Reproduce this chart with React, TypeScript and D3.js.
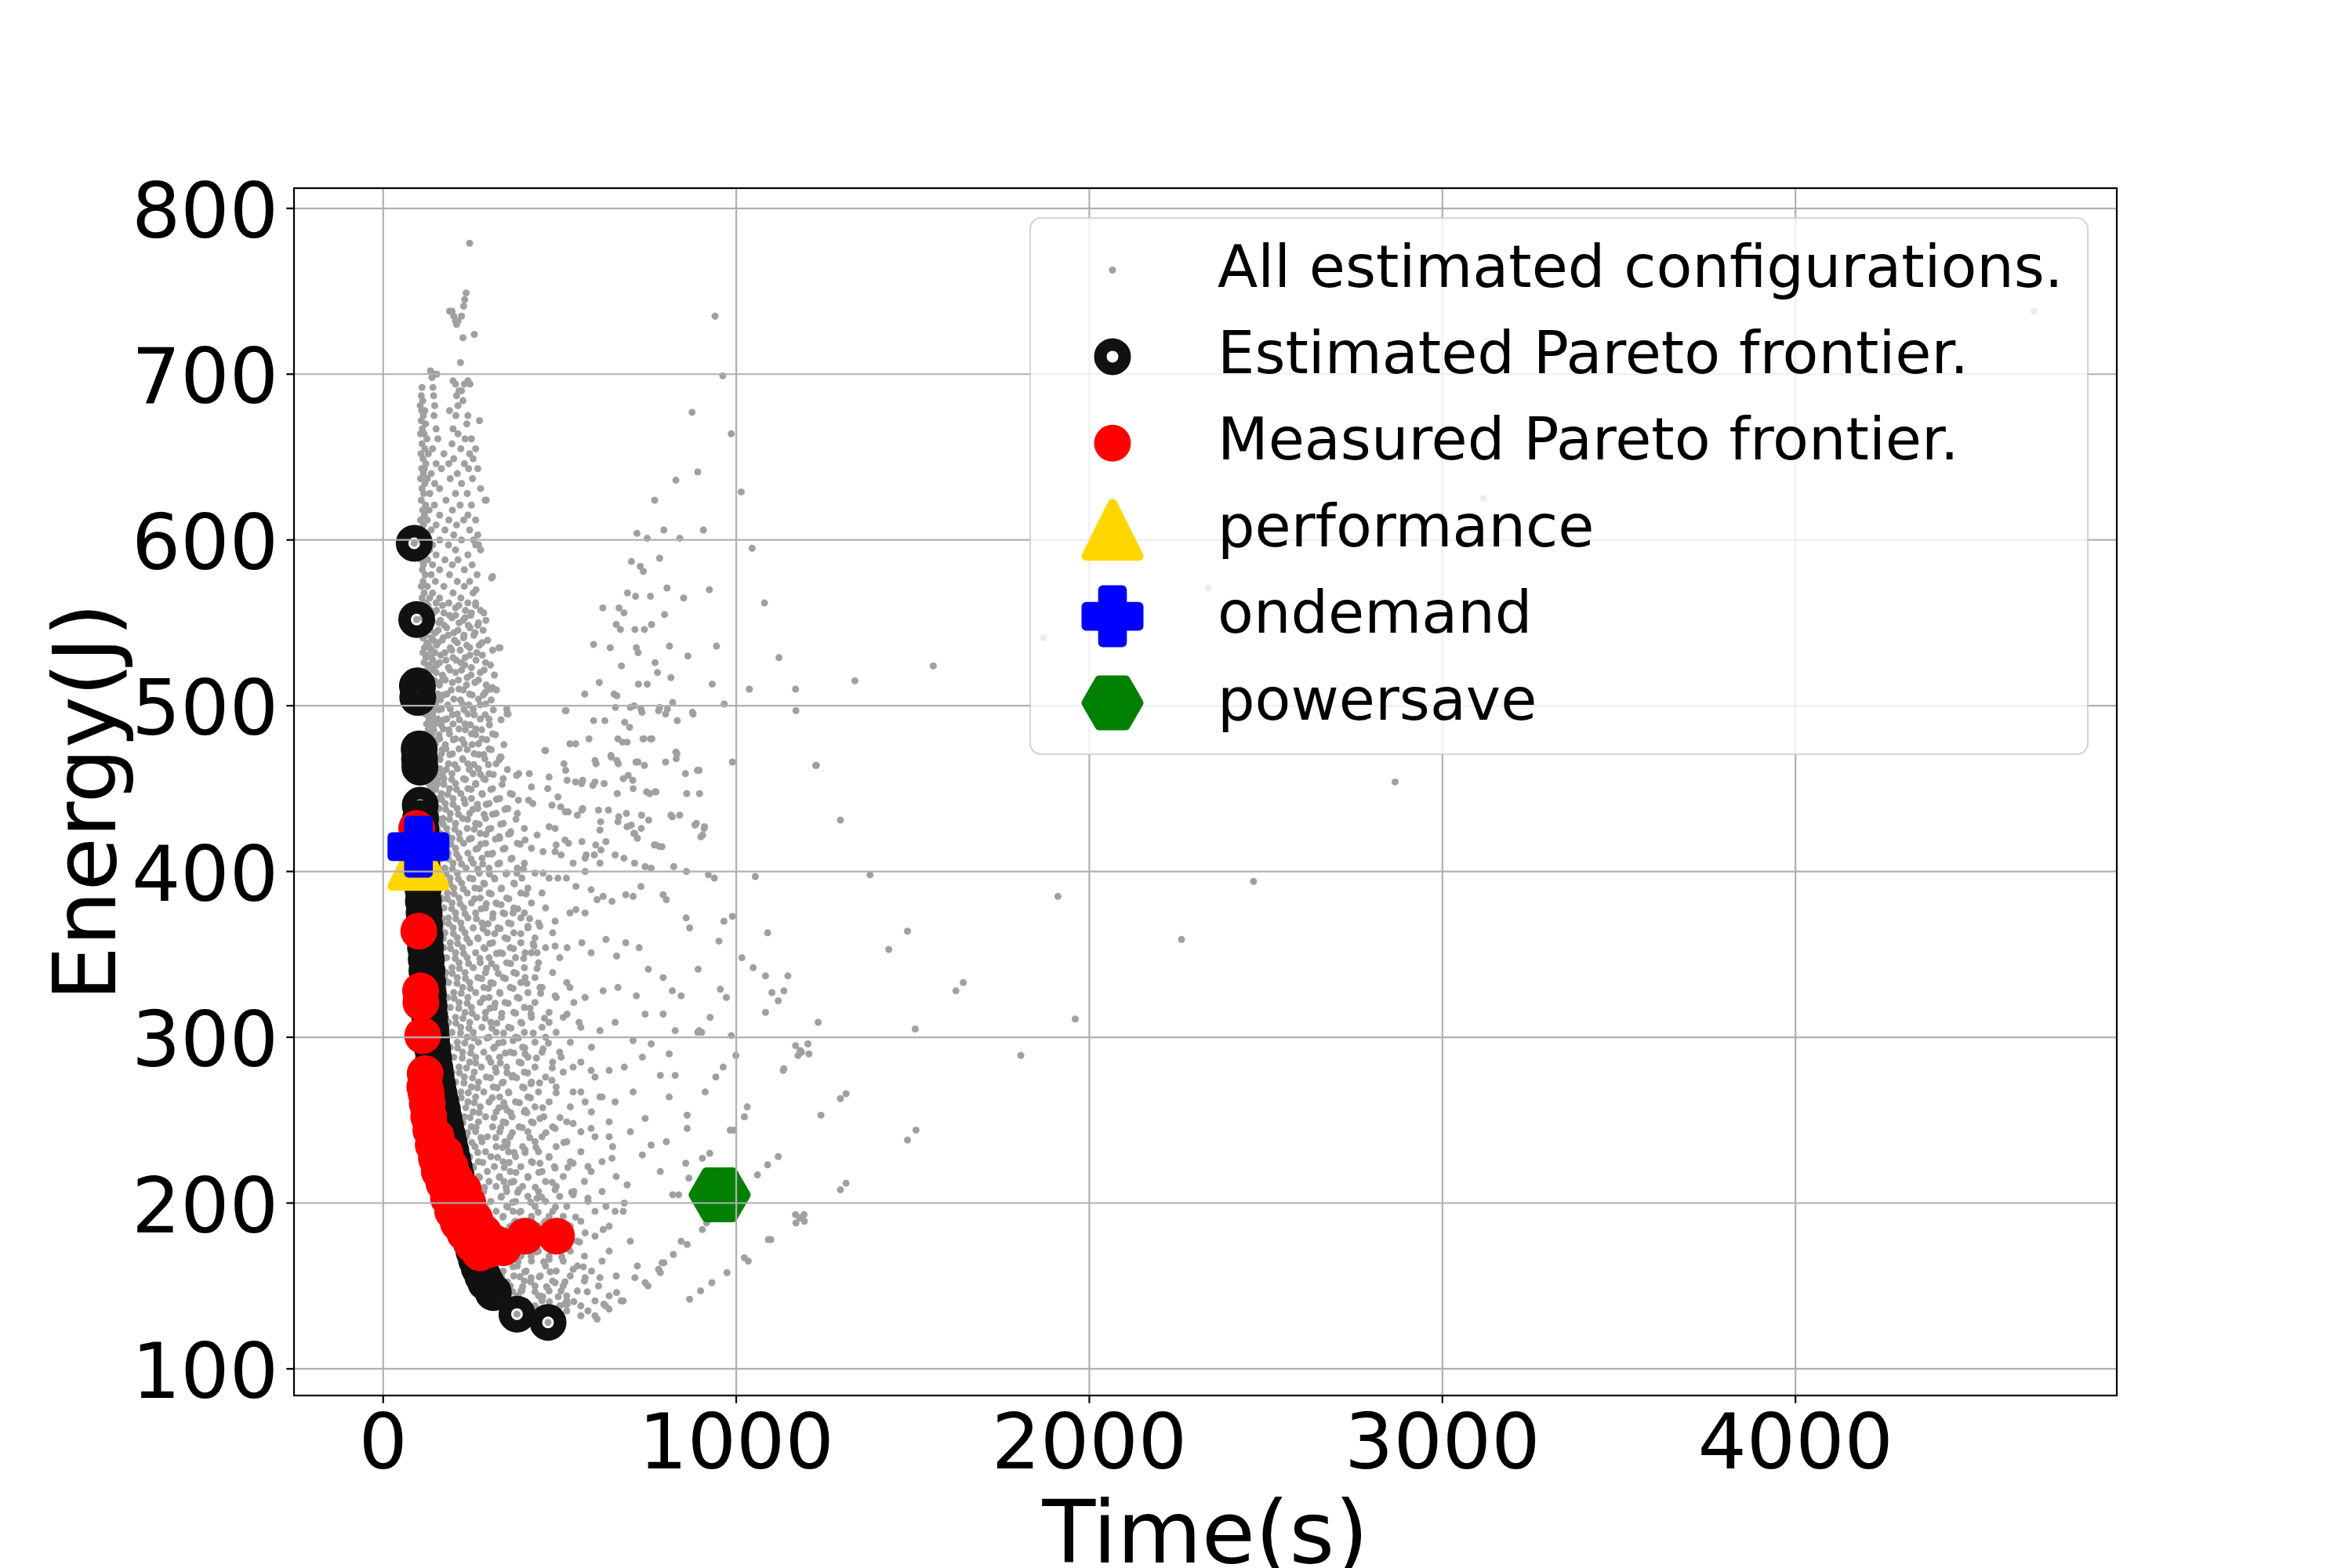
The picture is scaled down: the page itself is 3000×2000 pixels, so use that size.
import React from "react";
import * as d3 from "d3";

const W = 3000;
const H = 2000;

const xTicks = [0, 1000, 2000, 3000, 4000];
const yTicks = [100, 200, 300, 400, 500, 600, 700, 800];
const xDomain: [number, number] = [-252.5, 4910];
const yDomain: [number, number] = [83.9, 812.2];

const legendLabels = [
  "All estimated configurations.",
  "Estimated Pareto frontier.",
  "Measured Pareto frontier.",
  "performance",
  "ondemand",
  "powersave",
];

// Dense band of estimated configurations: [energy, [times...]]
const denseRows: [number, number[]][] = [
  [779, [245]], [749, [235]], [745, [231]], [741, [228]],
  [738, [188, 195]], [735, [200, 222]], [732, [205, 212]], [730, [208]],
  [724, [258]], [722, [226]], [707, [219]],
  [702, [134]], [700, [145, 152]], [698, [138]], [696, [198, 240]], [694, [205, 230, 246]],
  [692, [110, 141]], [690, [215, 222]], [687, [108, 143, 208]], [684, [112, 226]], [681, [105, 146, 212]],
  [678, [109, 118, 188]], [675, [114, 144, 206, 240]], [672, [108, 273]], [670, [120, 237]], [667, [111, 150, 198]],
  [664, [106, 116, 212]], [661, [124, 155, 232, 250]], [658, [110, 195]], [655, [118, 140, 220, 262]], [652, [107, 128, 172, 245]],
  [649, [113, 200, 255]], [646, [121, 150, 186, 230]], [643, [109, 117, 165, 242, 268]], [640, [114, 136, 210]],
  [637, [106, 125, 190, 253]], [634, [118, 146, 222]], [631, [110, 160, 276]], [628, [115, 132, 205, 238]],
  [624, [108, 178, 289]], [621, [120, 145, 218, 250]], [618, [112, 130, 196]], [615, [117, 160, 240]],
  [612, [106, 125, 186, 228, 262]], [609, [114, 150, 208]], [606, [110, 136, 175, 245]], [603, [119, 200, 268]],
  [600, [107, 128, 160, 222, 256]], [597, [115, 140, 185, 262, 270]], [594, [110, 132, 205, 276]],
  [591, [118, 150, 240]], [588, [108, 126, 175, 212]], [585, [114, 140, 196, 252]],
  [582, [111, 160, 230]], [579, [119, 136, 188, 266]], [577, [307]], [575, [113, 148, 210, 245]],
  [572, [108, 125, 172, 230]], [570, [263]], [568, [116, 140, 198, 255]],
  [565, [110, 132, 160, 220]], [562, [120, 150, 186, 240, 262]], [559, [113, 128, 205]],
  [556, [117, 142, 172, 250, 285]], [553, [111, 135, 195, 232]], [550, [122, 158, 215, 270]],
  [547, [115, 130, 180, 246]], [544, [119, 148, 200, 260]], [541, [112, 138, 170, 228]],
  [538, [124, 155, 210, 280]], [535, [117, 132, 190, 245, 328]], [532, [113, 146, 175, 265]],
  [529, [121, 136, 198, 232]], [526, [116, 160, 220, 290]], [523, [127, 142, 185, 250]],
  [520, [119, 150, 205, 275]], [517, [115, 133, 170, 238]], [514, [124, 160, 196, 260]],
  [510, [118, 140, 215, 298, 305]], [507, [128, 155, 180, 245]], [504, [121, 135, 200, 270]],
  [501, [117, 148, 225, 290]], [498, [126, 165, 190, 255, 350]], [495, [119, 140, 210, 240]],
  [492, [130, 155, 180, 275, 300]], [489, [123, 146, 198, 232]], [486, [128, 170, 215, 262]],
  [483, [121, 138, 188, 250, 310]], [480, [132, 160, 205, 280]], [477, [125, 148, 230, 270]],
  [474, [129, 142, 178, 215, 300]], [471, [123, 165, 196, 258]], [469, [331]], [468, [134, 152, 225, 288]],
  [465, [127, 145, 185, 240, 320]], [462, [131, 160, 210, 270]], [459, [125, 150, 195, 255, 300]],
  [456, [136, 172, 228, 285, 340]], [453, [129, 155, 205, 262]], [450, [134, 148, 188, 240, 310]],
  [447, [127, 165, 220, 280, 360]], [444, [138, 152, 198, 250, 330]], [441, [131, 176, 232, 300]],
  [438, [135, 158, 210, 268, 350]], [435, [129, 148, 190, 245, 320, 380]], [432, [140, 170, 225, 290]],
  [429, [133, 155, 205, 262, 340]], [426, [137, 180, 238, 305, 400]], [423, [131, 162, 215, 275, 360]],
  [420, [142, 150, 195, 250, 330]], [417, [135, 172, 228, 290, 380]], [414, [139, 160, 205, 268, 345, 420]],
  [411, [133, 185, 240, 310]], [408, [144, 165, 215, 280, 365]], [405, [137, 152, 198, 255, 330, 400]],
  [402, [141, 175, 235, 300, 380]], [399, [135, 160, 210, 272, 350, 430]], [396, [146, 190, 245, 315]],
  [393, [139, 168, 222, 285, 370]], [390, [143, 155, 200, 260, 335, 410]], [387, [137, 182, 238, 300, 390, 450]],
  [384, [148, 165, 215, 275, 350]], [381, [141, 195, 250, 320, 420]], [378, [145, 172, 228, 290, 370, 460]],
  [375, [139, 158, 205, 262, 340, 400]], [372, [150, 185, 240, 310, 390]], [369, [143, 168, 220, 280, 355, 440]],
  [366, [147, 198, 255, 325, 410]], [363, [141, 175, 232, 295, 370, 480]], [360, [152, 160, 210, 268, 345, 430]],
  [357, [145, 190, 245, 310, 390]], [354, [149, 172, 225, 285, 360, 460]], [351, [143, 205, 262, 330, 420]],
  [348, [154, 180, 238, 300, 375, 500]], [345, [147, 165, 215, 275, 350, 440]], [342, [151, 195, 255, 320, 400]],
  [339, [145, 178, 232, 290, 370, 480]], [336, [156, 210, 268, 340, 430]], [333, [149, 185, 245, 305, 390, 520]],
  [330, [153, 170, 225, 285, 360, 450]], [327, [147, 200, 262, 330, 410]], [324, [158, 182, 240, 300, 380, 490]],
  [321, [151, 215, 275, 345, 430, 540]], [318, [155, 190, 250, 315, 400]], [315, [149, 175, 232, 290, 370, 470]],
  [312, [160, 205, 265, 335, 420, 510]], [309, [153, 185, 245, 305, 390]], [306, [157, 220, 280, 355, 450, 560]],
  [303, [151, 195, 255, 320, 400, 490]], [300, [162, 178, 238, 300, 375, 460]], [297, [155, 210, 270, 340, 430, 530]],
  [294, [159, 190, 250, 315, 395, 590]], [291, [153, 225, 285, 360, 450, 500]], [288, [164, 200, 262, 330, 410]],
  [285, [157, 182, 245, 305, 385, 480, 560]], [282, [161, 215, 278, 350, 430]], [279, [155, 195, 258, 320, 400, 510]],
  [276, [166, 230, 292, 365, 460, 600]], [273, [159, 205, 270, 340, 420]], [270, [163, 188, 250, 312, 395, 490]],
  [267, [168, 220, 285, 355, 440, 560]], [264, [161, 200, 262, 330, 410, 620]], [261, [170, 240, 300, 375, 470]],
  [258, [165, 210, 275, 345, 430, 530]], [255, [172, 195, 255, 320, 400, 590]], [252, [167, 230, 290, 365, 455]],
  [249, [175, 215, 270, 340, 420, 520, 640]], [246, [170, 250, 310, 385, 480]], [243, [178, 205, 262, 330, 410, 560]],
  [240, [173, 235, 295, 360, 450, 600]], [237, [181, 220, 280, 345, 430, 520]], [234, [176, 260, 320, 395, 490, 650]],
  [231, [184, 225, 290, 355, 440, 560]], [228, [179, 245, 305, 375, 470]], [225, [188, 215, 270, 340, 420, 530, 620]],
  [222, [183, 255, 315, 390, 485, 580]], [219, [192, 235, 295, 360, 450]], [216, [187, 270, 330, 410, 510, 660]],
  [213, [196, 240, 300, 370, 460, 570]], [210, [191, 260, 320, 395, 490]], [207, [200, 235, 285, 350, 440, 540, 620]],
  [204, [196, 275, 335, 410, 500]], [201, [205, 250, 305, 375, 460, 580]], [198, [201, 290, 350, 430, 520]],
  [195, [210, 260, 320, 390, 480, 600, 680]], [192, [206, 280, 340, 420, 510]], [189, [216, 250, 305, 375, 460, 560]],
  [186, [212, 295, 360, 440, 530, 640]], [183, [222, 265, 325, 400, 490]], [180, [218, 285, 345, 420, 510, 600]],
  [177, [228, 310, 375, 455, 550, 700]], [174, [234, 270, 335, 410, 500]], [171, [240, 300, 360, 440, 530, 640]],
  [168, [248, 325, 390, 470, 570]], [165, [256, 285, 350, 420, 510, 620]], [162, [264, 315, 380, 460, 550, 720]],
  [159, [272, 340, 405, 490, 590]], [156, [282, 305, 370, 445, 530, 660]], [153, [292, 335, 400, 480, 570]],
  [150, [300, 360, 430, 510, 610, 750]], [147, [312, 345, 390, 470, 550]], [144, [325, 380, 440, 520, 640]],
  [141, [390, 450, 520, 600, 680]], [138, [430, 500, 560, 630]], [135, [470, 520, 580]], [132, [560, 600]],
];

// Second pass over the dense band, between the rows above: [energy, [times...]]
const denseRowsInner: [number, number[]][] = [
  [560.5, [127, 168, 214, 262]], [557.5, [134, 151, 233, 276]], [554.5, [122, 188, 205, 248]],
  [551.5, [139, 162, 226, 291]], [548.5, [126, 173, 241, 268]], [545.5, [133, 156, 212, 283]],
  [542.5, [121, 184, 229, 257]], [539.5, [142, 167, 202, 296]], [536.5, [128, 151, 237, 272]],
  [533.5, [136, 194, 218, 310]], [530.5, [124, 163, 246, 281]], [527.5, [141, 178, 207, 263]],
  [524.5, [130, 152, 231, 304]], [521.5, [137, 189, 222, 286]], [518.5, [126, 168, 249, 315]],
  [515.5, [144, 176, 213, 270]], [512.5, [132, 159, 236, 292]], [509.5, [139, 193, 227, 321]],
  [506.5, [128, 171, 252, 284]], [503.5, [146, 162, 219, 306]], [500.5, [134, 183, 243, 275]],
  [497.5, [141, 157, 229, 312]], [494.5, [130, 196, 258, 289]], [491.5, [148, 173, 216, 334]],
  [488.5, [136, 164, 247, 301]], [485.5, [143, 186, 233, 279]], [482.5, [132, 158, 262, 318]],
  [479.5, [150, 199, 224, 293]], [476.5, [138, 176, 252, 342]], [473.5, [145, 167, 238, 306]],
  [470.5, [134, 189, 271, 285]], [467.5, [152, 161, 226, 329]], [464.5, [140, 203, 257, 298]],
  [461.5, [147, 179, 244, 352]], [458.5, [136, 168, 276, 312]], [455.5, [154, 194, 233, 289]],
  [452.5, [142, 172, 262, 337]], [449.5, [149, 208, 249, 305]], [446.5, [138, 183, 281, 366]],
  [443.5, [156, 166, 229, 321]], [440.5, [144, 198, 267, 292]], [437.5, [151, 177, 254, 345]],
  [434.5, [140, 213, 286, 310]], [431.5, [158, 188, 239, 376]], [428.5, [146, 170, 272, 333]],
  [425.5, [153, 203, 258, 299]], [422.5, [142, 181, 291, 355]], [419.5, [160, 217, 244, 318]],
  [416.5, [148, 192, 277, 388]], [413.5, [155, 174, 263, 340]], [410.5, [144, 208, 296, 307]],
  [407.5, [162, 185, 249, 362]], [404.5, [150, 222, 282, 325]], [401.5, [157, 196, 268, 397]],
  [398.5, [146, 178, 301, 348]], [395.5, [164, 213, 254, 316]], [392.5, [152, 189, 287, 372]],
  [389.5, [159, 227, 273, 334]], [386.5, [148, 201, 306, 405]], [383.5, [166, 182, 259, 356]],
  [380.5, [154, 218, 292, 323]], [377.5, [161, 194, 278, 381]], [374.5, [150, 232, 311, 344]],
  [371.5, [168, 206, 264, 415]], [368.5, [156, 186, 297, 362]], [365.5, [163, 223, 283, 331]],
  [362.5, [152, 199, 316, 390]], [359.5, [170, 237, 269, 352]], [356.5, [158, 211, 302, 425]],
  [353.5, [165, 191, 288, 369]], [350.5, [154, 228, 321, 338]], [347.5, [172, 204, 274, 398]],
  [344.5, [160, 242, 307, 361]], [341.5, [167, 216, 293, 436]], [338.5, [156, 196, 326, 377]],
  [335.5, [174, 233, 279, 346]], [332.5, [162, 209, 312, 407]], [329.5, [169, 247, 298, 368]],
  [326.5, [158, 221, 331, 446]], [323.5, [176, 201, 284, 385]], [320.5, [164, 238, 317, 354]],
  [317.5, [171, 214, 303, 416]], [314.5, [160, 252, 336, 375]], [311.5, [178, 226, 289, 457]],
  [308.5, [166, 206, 322, 393]], [305.5, [173, 243, 308, 362]], [302.5, [162, 219, 341, 425]],
  [299.5, [180, 257, 294, 383]], [296.5, [168, 231, 327, 468]], [293.5, [175, 211, 313, 401]],
  [290.5, [184, 248, 346, 370]], [287.5, [172, 224, 299, 434]], [284.5, [179, 262, 332, 391]],
  [281.5, [188, 236, 318, 479]], [278.5, [176, 216, 351, 409]], [275.5, [183, 253, 304, 378]],
  [272.5, [192, 229, 337, 443]], [269.5, [180, 267, 323, 399]], [266.5, [187, 241, 356, 490]],
  [263.5, [196, 221, 309, 417]], [260.5, [184, 258, 342, 386]], [257.5, [191, 234, 328, 452]],
  [254.5, [200, 272, 361, 407]], [251.5, [188, 246, 314, 501]], [248.5, [195, 226, 347, 425]],
  [245.5, [204, 263, 333, 394]], [242.5, [192, 239, 366, 461]], [239.5, [199, 277, 319, 415]],
  [236.5, [208, 251, 352, 512]], [233.5, [196, 231, 338, 433]], [230.5, [203, 268, 371, 402]],
  [227.5, [212, 244, 324, 470]], [224.5, [200, 282, 357, 423]], [221.5, [207, 256, 343, 523]],
  [218.5, [216, 236, 376, 441]], [215.5, [204, 273, 329, 410]], [212.5, [211, 249, 362, 479]],
  [209.5, [220, 287, 348, 431]], [206.5, [208, 261, 381, 534]], [203.5, [215, 241, 334, 449]],
  [200.5, [224, 278, 367, 418]], [197.5, [212, 254, 353, 488]], [194.5, [219, 292, 386, 439]],
  [191.5, [228, 266, 339, 545]], [188.5, [216, 246, 372, 457]], [185.5, [223, 283, 358, 426]],
  [182.5, [232, 259, 391, 497]], [179.5, [237, 297, 344, 447]], [176.5, [242, 271, 377, 556]],
  [173.5, [247, 288, 363, 465]], [170.5, [252, 302, 396, 434]], [167.5, [258, 276, 349, 506]],
  [164.5, [266, 293, 382, 455]], [161.5, [274, 307, 368, 567]], [158.5, [282, 321, 401, 473]],
  [155.5, [290, 336, 387, 442]], [152.5, [300, 352, 418, 515]], [149.5, [310, 341, 395, 463]],
  [146.5, [322, 367, 430, 578]], [143.5, [338, 384, 452, 496]], [140.5, [356, 404, 471, 540]],
];

// Scattered estimated configurations: [time, energy]
const scatterPoints: [number, number][] = [
  [1168, 510], [1169, 497], [1336, 515], [1558, 524], [1227, 464], [1295, 431], [1379, 398], [1911, 385],
  [1485, 364], [1432, 353], [1146, 337], [1135, 328], [1643, 333], [1622, 328], [1232, 309], [1507, 305],
  [1960, 311], [1203, 296], [1185, 291], [1175, 289], [1135, 281], [1806, 289], [1311, 266], [1295, 263],
  [1240, 253], [1509, 244], [1485, 238], [1311, 212], [1295, 208], [1192, 193], [1180, 191], [1169, 188],
  [2866, 454], [2465, 394], [2261, 359], [2337, 571], [1870, 541], [4675, 738], [3116, 625],
  [940, 735], [962, 699], [875, 677], [986, 664], [891, 641], [829, 636], [1014, 629], [769, 624],
  [719, 604], [795, 606], [907, 606], [748, 601], [840, 601], [1045, 595], [783, 589], [703, 587],
  [728, 584], [737, 581], [924, 570], [804, 571], [692, 568], [715, 566], [757, 566], [851, 565],
  [1080, 562], [622, 559], [668, 559], [682, 556], [797, 555], [660, 549], [672, 546], [713, 546],
  [740, 546], [760, 549], [596, 537], [643, 535], [717, 535], [722, 532], [811, 536], [944, 536],
  [1121, 529], [770, 526], [777, 520], [815, 517], [863, 530], [675, 524], [723, 513], [748, 513],
  [571, 507], [612, 514], [654, 507], [662, 506], [932, 513], [1037, 510], [966, 501], [820, 502],
  [783, 499], [805, 498], [833, 491], [876, 496], [516, 497], [596, 491], [628, 491], [684, 490],
  [698, 487], [711, 500], [730, 498], [736, 480], [757, 480], [829, 472], [830, 468], [989, 466],
  [1225, 464], [458, 473], [529, 477], [545, 477], [583, 480], [600, 467], [645, 470], [662, 467],
  [680, 456], [694, 458], [707, 455], [722, 466], [740, 464], [746, 448], [770, 448], [856, 459],
  [890, 461], [860, 447], [512, 465], [545, 454], [565, 455], [594, 452], [384, 459], [420, 451],
  [412, 443], [466, 450], [495, 445], [516, 436], [550, 434], [815, 434], [840, 434], [887, 429],
  [910, 427], [905, 422], [768, 416], [783, 415], [703, 428], [731, 426], [616, 430], [665, 430],
  [710, 423], [565, 438], [575, 410], [617, 413], [490, 416], [515, 419],
  [351, 495], [518, 497], [658, 499], [700, 499], [733, 496], [780, 497], [800, 495], [878, 495],
  [460, 473], [665, 480], [678, 478], [691, 478], [738, 480], [761, 480], [832, 471], [517, 461],
  [603, 465], [646, 469], [666, 465], [716, 466], [800, 466], [895, 461], [378, 458], [414, 459],
  [470, 457], [521, 455], [562, 453], [600, 454], [626, 453], [663, 447], [708, 450], [755, 447],
  [773, 448], [896, 447], [353, 438], [383, 443], [424, 441], [478, 440], [503, 439], [524, 436],
  [563, 437], [610, 437], [638, 437], [667, 433], [689, 435], [732, 434], [752, 431], [819, 433],
  [883, 428], [909, 426], [900, 421], [329, 421], [361, 424], [402, 419], [436, 422], [470, 427],
  [487, 426], [525, 417], [563, 418], [602, 416], [614, 425], [631, 418], [691, 427], [712, 423],
  [720, 420], [772, 416], [790, 415], [823, 403], [859, 400], [921, 398], [938, 396], [1054, 397],
  [657, 410], [682, 408], [712, 405], [742, 403], [759, 402], [572, 408], [598, 410], [614, 405],
  [453, 412], [487, 412], [504, 410], [538, 405], [572, 400], [379, 399], [393, 396], [453, 399],
  [470, 396], [495, 396], [519, 396], [546, 391], [589, 389], [623, 385], [648, 382], [687, 386],
  [708, 385], [730, 391], [793, 386], [802, 383], [858, 372], [868, 366], [965, 370], [989, 373],
  [1089, 363], [955, 329], [972, 324], [892, 341], [951, 358], [1016, 348], [1048, 342], [1083, 337],
  [1101, 327], [1119, 322], [1083, 315], [926, 312], [986, 301], [999, 289], [1133, 280], [1168, 295],
  [1181, 292], [1206, 290], [891, 303], [902, 303], [942, 276], [963, 282], [1031, 258], [1023, 252],
  [983, 244], [993, 244], [904, 227], [925, 230], [857, 224], [866, 215], [1089, 223], [1119, 228],
  [1060, 217], [820, 205], [837, 205], [904, 184], [916, 188], [844, 177], [861, 175], [822, 169],
  [790, 164], [795, 164], [1091, 178], [1098, 178], [1168, 193], [1193, 189], [974, 158], [931, 152],
  [899, 147], [868, 142], [1023, 167], [1034, 165], [713, 155], [742, 152], [661, 146], [674, 141],
  [625, 139], [640, 136], [606, 130], [780, 160], [785, 158],
  [334, 380], [368, 375], [410, 367], [427, 355], [444, 367], [487, 370], [529, 375], [546, 377],
  [572, 375], [606, 383], [402, 351], [436, 351], [487, 355], [521, 354], [563, 357], [589, 351],
  [631, 359], [661, 349], [687, 357], [725, 354], [751, 341], [793, 336], [819, 328], [844, 325],
  [402, 336], [444, 330], [487, 325], [529, 330], [572, 324], [623, 328], [665, 330], [717, 325],
  [742, 314], [793, 314], [827, 304], [895, 304], [419, 314], [470, 309], [521, 314], [555, 309],
  [614, 304], [657, 309], [708, 298], [759, 296], [810, 290], [368, 298], [402, 290], [453, 293],
  [504, 288], [538, 282], [589, 280], [640, 280], [683, 282], [734, 288], [785, 277], [827, 277],
  [368, 277], [419, 272], [478, 274], [538, 267], [572, 261], [614, 264], [657, 261], [708, 267],
  [742, 251], [810, 264], [861, 253], [912, 267], [351, 256], [402, 256], [444, 251], [487, 245],
  [538, 248], [589, 245], [640, 240], [700, 243], [759, 235], [802, 237], [861, 245], [351, 235],
  [402, 232], [444, 224], [487, 221], [538, 224], [589, 219], [648, 227], [691, 211], [734, 229],
  [785, 219], [342, 213], [385, 208], [436, 203], [487, 208], [538, 205], [580, 203], [631, 198],
  [683, 200], [368, 195], [419, 190], [470, 192], [521, 187], [572, 182], [623, 184], [657, 195],
  [368, 174], [419, 168], [470, 166], [538, 160], [572, 155], [614, 155], [487, 152], [419, 155],
  [393, 147], [444, 144], [504, 147], [521, 139], [514, 139],
  [292, 624], [310, 578], [331, 535], [354, 495], [334, 469], [289, 508], [309, 511],
];

// Estimated Pareto frontier: [time, energy]
const estimatedFrontier: [number, number][] = [
  [88, 598], [95, 552], [97, 512], [98, 505], [102, 474], [103, 468], [104, 463], [105, 440],
  [106, 432], [107, 425], [108, 418], [109, 410], [110, 403], [111, 396], [113, 389], [114, 382],
  [116, 375], [117, 368], [119, 361], [120, 354], [122, 347], [124, 340], [126, 333], [128, 326],
  [130, 319], [132, 312], [135, 305], [137, 299], [140, 293], [143, 287], [147, 281], [150, 276],
  [154, 271], [158, 266], [163, 261], [168, 256], [172, 251], [177, 246], [182, 241], [187, 236],
  [192, 231], [197, 226], [202, 221], [207, 216], [212, 211], [217, 206], [222, 201], [227, 196],
  [232, 191], [238, 186], [243, 181], [250, 176], [257, 171], [264, 166], [272, 161], [282, 156],
  [291, 152], [312, 146], [379, 133], [467, 128],
];

// Measured Pareto frontier: [time, energy]
const measuredFrontier: [number, number][] = [
  [95, 426], [101, 364], [106, 328], [107, 321], [112, 301], [119, 278], [125, 260], [129, 252],
  [135, 244], [142, 235], [151, 227], [159, 219], [172, 212], [227, 208], [185, 203], [197, 195],
  [231, 196], [213, 188], [231, 182], [253, 175], [274, 170], [300, 172], [325, 175], [340, 173],
  [402, 180], [491, 180], [175, 230], [190, 222], [205, 214], [240, 200], [260, 190], [285, 182],
  [300, 178], [150, 240], [165, 226], [118, 270], [122, 266],
];

const performancePoint: [number, number] = [100, 407];
const ondemandPoint: [number, number] = [100, 415];
const powersavePoint: [number, number] = [953, 205];

const GRAY = "#a0a0a0";
const BLACK = "#111111";
const RED = "#ff0000";
const GOLD = "#ffd700";
const BLUE = "#0000ff";
const GREEN = "#008000";

function trianglePath(cx: number, cy: number, h: number) {
  return `M${cx},${cy - h}L${cx - h},${cy + h}L${cx + h},${cy + h}Z`;
}
function plusPath(cx: number, cy: number, a: number, b: number) {
  const p = [
    [-b, -a], [b, -a], [b, -b], [a, -b], [a, b], [b, b],
    [b, a], [-b, a], [-b, b], [-a, b], [-a, -b], [-b, -b],
  ];
  return "M" + p.map(([x, y]) => `${cx + x},${cy + y}`).join("L") + "Z";
}
function hexPath(cx: number, cy: number, r: number) {
  const p = d3.range(6).map((i) => {
    const a = (Math.PI / 3) * i;
    return [cx + r * Math.cos(a), cy + r * Math.sin(a)];
  });
  return "M" + p.map(([x, y]) => `${x},${y}`).join("L") + "Z";
}

export default function App() {
  const L = 375, R = 2700, T = 240, B = 1780;
  const x = d3.scaleLinear().domain(xDomain).range([L, R]);
  const y = d3.scaleLinear().domain(yDomain).range([B, T]);

  const grayPts: [number, number][] = [];
  denseRows.forEach(([e, ts]) => ts.forEach((t) => grayPts.push([t, e])));
  denseRowsInner.forEach(([e, ts]) => ts.forEach((t) => grayPts.push([t, e])));
  scatterPoints.forEach((p) => grayPts.push(p));
  estimatedFrontier.forEach((p) => grayPts.push(p));

  const font = "DejaVu Sans";
  const lw = 2.2;
  const legX = 1419;
  const legRows = legendLabels.map((_, i) => 344.5 + i * 110.4);
  const markerStroke = 12;

  return (
    <svg
      width={W}
      height={H}
      viewBox={`0 0 ${W} ${H}`}
      style={{ position: "absolute", left: 0, top: 0, background: "#fff" }}
      fontFamily={font}
    >
      <rect x={0} y={0} width={W} height={H} fill="#fff" />
      <defs>
        <clipPath id="plotArea">
          <rect x={L} y={T} width={R - L} height={B - T} />
        </clipPath>
      </defs>
      <g clipPath="url(#plotArea)">
        {grayPts.map(([t, e], i) => (
          <circle key={"g" + i} cx={x(t)} cy={y(e)} r={4.5} fill={GRAY} />
        ))}
        {estimatedFrontier.map(([t, e], i) => (
          <circle key={"b" + i} cx={x(t)} cy={y(e)} r={15.5} fill="none" stroke={BLACK} strokeWidth={16} />
        ))}
        {measuredFrontier.map(([t, e], i) => (
          <circle key={"r" + i} cx={x(t)} cy={y(e)} r={23.5} fill={RED} />
        ))}
        <path
          d={trianglePath(x(performancePoint[0]), y(performancePoint[1]), 33.5)}
          fill={GOLD} stroke={GOLD} strokeWidth={markerStroke} strokeLinejoin="round"
        />
        <path
          d={plusPath(x(ondemandPoint[0]), y(ondemandPoint[1]), 33.5, 12.3)}
          fill={BLUE} stroke={BLUE} strokeWidth={markerStroke} strokeLinejoin="round"
        />
        <path
          d={hexPath(x(powersavePoint[0]), y(powersavePoint[1]), 33.5)}
          fill={GREEN} stroke={GREEN} strokeWidth={markerStroke} strokeLinejoin="round"
        />
        {xTicks.map((t) => (
          <line key={"gx" + t} x1={x(t)} x2={x(t)} y1={T} y2={B} stroke="#b0b0b0" strokeWidth={lw} />
        ))}
        {yTicks.map((t) => (
          <line key={"gy" + t} x1={L} x2={R} y1={y(t)} y2={y(t)} stroke="#b0b0b0" strokeWidth={lw} />
        ))}
      </g>
      <rect x={L} y={T} width={R - L} height={B - T} fill="none" stroke="#000" strokeWidth={lw} />
      {xTicks.map((t) => (
        <g key={"tx" + t}>
          <line x1={x(t)} x2={x(t)} y1={B} y2={B + 9.7} stroke="#000" strokeWidth={lw} />
          <text x={x(t)} y={1873} fontSize={98} textAnchor="middle" fill="#000">
            {t}
          </text>
        </g>
      ))}
      {yTicks.map((t) => (
        <g key={"ty" + t}>
          <line x1={L - 9.7} x2={L} y1={y(t)} y2={y(t)} stroke="#000" strokeWidth={lw} />
          <text x={355} y={y(t) + 37} fontSize={98} textAnchor="end" fill="#000">
            {t}
          </text>
        </g>
      ))}
      <text x={(L + R) / 2} y={1993} fontSize={111} textAnchor="middle" fill="#000">
        Time(s)
      </text>
      <text
        transform={`translate(147,1023) rotate(-90)`}
        fontSize={111}
        textAnchor="middle"
        fill="#000"
      >
        Energy(J)
      </text>

      <g>
        <rect
          x={1314}
          y={278}
          width={2663 - 1314}
          height={962 - 278}
          rx={14}
          ry={14}
          fill="#fff"
          fillOpacity={0.8}
          stroke="#cccccc"
          strokeOpacity={0.8}
          strokeWidth={lw}
        />
        <circle cx={legX} cy={legRows[0]} r={4.5} fill={GRAY} />
        <circle cx={legX} cy={legRows[1]} r={15.5} fill="none" stroke={BLACK} strokeWidth={16} />
        <circle cx={legX} cy={legRows[2]} r={23.5} fill={RED} />
        <path d={trianglePath(legX, legRows[3], 33.5)} fill={GOLD} stroke={GOLD} strokeWidth={markerStroke} strokeLinejoin="round" />
        <path d={plusPath(legX, legRows[4], 33.5, 12.3)} fill={BLUE} stroke={BLUE} strokeWidth={markerStroke} strokeLinejoin="round" />
        <path d={hexPath(legX, legRows[5], 33.5)} fill={GREEN} stroke={GREEN} strokeWidth={markerStroke} strokeLinejoin="round" />
        {legendLabels.map((lab, i) => (
          <text key={lab} x={1553} y={legRows[i] + 21} fontSize={75} fill="#000">
            {lab}
          </text>
        ))}
      </g>
    </svg>
  );
}
